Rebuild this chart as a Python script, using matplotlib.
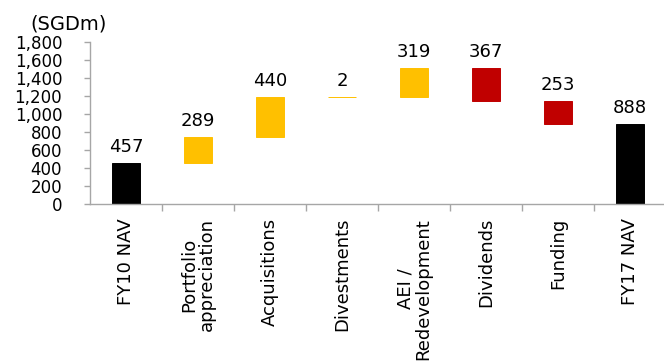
import matplotlib
matplotlib.use("Agg")
import matplotlib.pyplot as plt
import numpy as np

categories = ["FY10 NAV", "Portfolio\nappreciation", "Acquisitions", "Divestments",
              "AEI /\nRedevelopment", "Dividends", "Funding", "FY17 NAV"]
changes = [457, 289, 440, 2, 319, -367, -253, 888]
kinds = ["total", "up", "up", "up", "up", "down", "down", "total"]
labels = ["457", "289", "440", "2", "319", "367", "253", "888"]

colours = {"total": "#000000", "up": "#FFC000", "down": "#C00000"}

# work out bar bottoms / heights for the waterfall
bottoms = []
heights = []
running = 0
for ch, k in zip(changes, kinds):
    if k == "total":
        bottoms.append(0)
        heights.append(ch)
        running = ch
    elif k == "up":
        bottoms.append(running)
        heights.append(ch)
        running += ch
    else:
        running += ch
        bottoms.append(running)
        heights.append(-ch)

x = np.arange(len(categories))

fig = plt.figure(figsize=(6.64, 3.64), dpi=100)
ax = fig.add_axes([90 / 664, 1 - 204 / 364, 576 / 664, 162 / 364])

cols = [colours[k] for k in kinds]
ax.bar(x, heights, bottom=bottoms, width=0.4, color=cols, edgecolor=cols, linewidth=0.7)

for xi, b, h, lab in zip(x, bottoms, heights, labels):
    ax.annotate(lab, (xi, b + h), xytext=(0, 5), textcoords="offset points",
                ha="center", va="bottom", fontsize=13)

ax.set_xlim(-0.5, len(categories) - 0.5)
ax.set_ylim(0, 1800)
ax.set_yticks(np.arange(0, 1801, 200))
ax.set_yticklabels([f"{v:,}" for v in range(0, 1801, 200)], fontsize=12)

ax.set_xticks(x)
ax.set_xticklabels(categories, rotation=90, fontsize=13, va="top", ha="center",
                   linespacing=1.0)
ax.set_xticks(np.arange(0.5, len(categories) - 0.5, 1), minor=True)
ax.tick_params(axis="x", which="major", length=0, pad=10)
ax.tick_params(axis="x", which="minor", length=5, color="#A6A6A6", width=1)
ax.tick_params(axis="y", length=4, color="#A6A6A6", width=1, pad=16)

for s in ["top", "right"]:
    ax.spines[s].set_visible(False)
for s in ["left", "bottom"]:
    ax.spines[s].set_color("#A6A6A6")
    ax.spines[s].set_linewidth(1)

fig.text(30 / 664, 1 - 24 / 364, "(SGDm)", fontsize=14, va="center", ha="left")

plt.savefig("out.png", dpi=100)
